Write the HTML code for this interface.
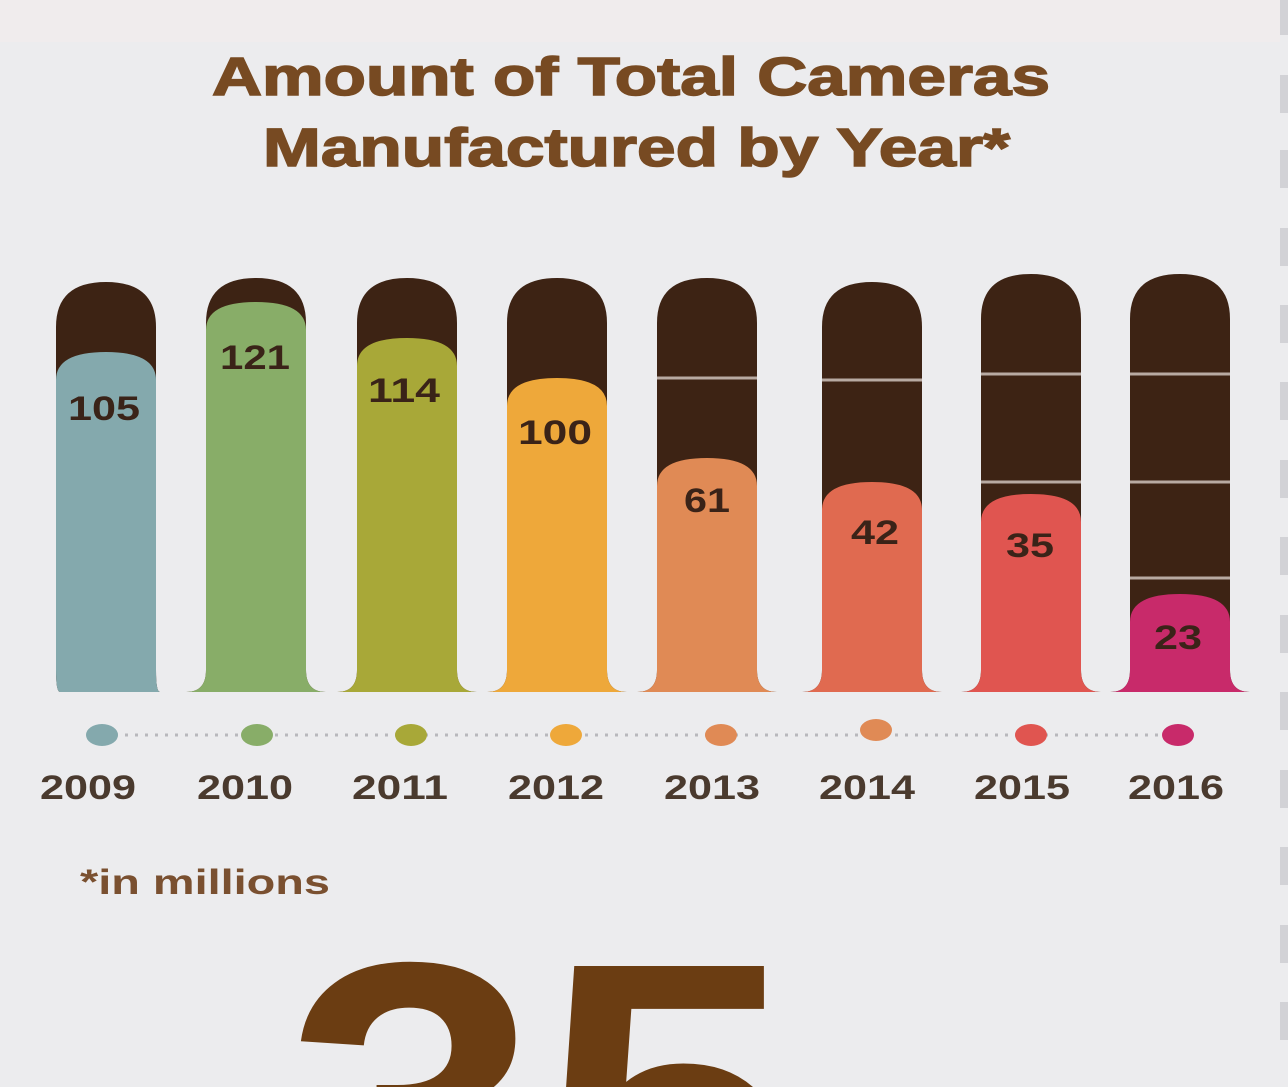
<!DOCTYPE html>
<html><head><meta charset="utf-8"><style>
html,body{margin:0;padding:0;background:#ececee;overflow:hidden;width:1288px;height:1087px}
svg{display:block}
</style></head><body>
<svg id="s" width="1288" height="1087" viewBox="0 0 1288 1087" xmlns="http://www.w3.org/2000/svg">
<rect width="1288" height="1087" fill="#ececee"/>
<rect width="1280" height="42" fill="#f0eced"/>
<g fill="#d2d2d6">
<rect x="1280" y="0" width="8" height="35"/><rect x="1280" y="75" width="8" height="38"/><rect x="1280" y="150" width="8" height="38"/><rect x="1280" y="228" width="8" height="38"/><rect x="1280" y="305" width="8" height="38"/><rect x="1280" y="382" width="8" height="38"/><rect x="1280" y="460" width="8" height="38"/><rect x="1280" y="537" width="8" height="38"/><rect x="1280" y="615" width="8" height="38"/><rect x="1280" y="692" width="8" height="38"/><rect x="1280" y="770" width="8" height="38"/><rect x="1280" y="847" width="8" height="38"/><rect x="1280" y="925" width="8" height="38"/><rect x="1280" y="1002" width="8" height="38"/>
</g>
<g font-family="Liberation Sans, sans-serif" font-weight="bold" fill="#774a22" font-size="54" stroke="#774a22" stroke-width="1.5" lengthAdjust="spacingAndGlyphs">
<text x="212" y="95" textLength="838" lengthAdjust="spacingAndGlyphs">Amount of Total Cameras</text>
<text x="263" y="166" textLength="747" lengthAdjust="spacingAndGlyphs">Manufactured by Year*</text>
</g>
<g id="bars"></g>
<line x1="105" y1="735" x2="1180" y2="735" stroke="#b8b8bc" stroke-width="3" stroke-dasharray="3,7"/>
<g id="dots"></g>
<g font-family="Liberation Sans, sans-serif" font-weight="bold" fill="#3a2318" font-size="34">
<text x="68" y="420" textLength="72" lengthAdjust="spacingAndGlyphs">105</text>
<text x="220" y="369" textLength="70" lengthAdjust="spacingAndGlyphs">121</text>
<text x="368" y="402" textLength="72" lengthAdjust="spacingAndGlyphs">114</text>
<text x="518" y="444" textLength="74" lengthAdjust="spacingAndGlyphs">100</text>
<text x="684" y="512" textLength="46" lengthAdjust="spacingAndGlyphs">61</text>
<text x="851" y="544" textLength="48" lengthAdjust="spacingAndGlyphs">42</text>
<text x="1006" y="557" textLength="48" lengthAdjust="spacingAndGlyphs">35</text>
<text x="1154" y="649" textLength="48" lengthAdjust="spacingAndGlyphs">23</text>
</g>
<g font-family="Liberation Sans, sans-serif" fill="#4a3a2e" font-size="34" font-weight="bold">
<text x="40" y="799" textLength="96" lengthAdjust="spacingAndGlyphs">2009</text>
<text x="197" y="799" textLength="96" lengthAdjust="spacingAndGlyphs">2010</text>
<text x="352" y="799" textLength="96" lengthAdjust="spacingAndGlyphs">2011</text>
<text x="508" y="799" textLength="96" lengthAdjust="spacingAndGlyphs">2012</text>
<text x="664" y="799" textLength="96" lengthAdjust="spacingAndGlyphs">2013</text>
<text x="819" y="799" textLength="96" lengthAdjust="spacingAndGlyphs">2014</text>
<text x="974" y="799" textLength="96" lengthAdjust="spacingAndGlyphs">2015</text>
<text x="1128" y="799" textLength="96" lengthAdjust="spacingAndGlyphs">2016</text>
</g>
<text x="80" y="894" font-family="Liberation Sans, sans-serif" font-weight="bold" font-size="35" fill="#7a5030" textLength="250" lengthAdjust="spacingAndGlyphs">*in millions</text>
<text x="285" y="1255" font-family="Liberation Sans, sans-serif" font-weight="bold" font-size="420" fill="#6b3d12" textLength="510" lengthAdjust="spacingAndGlyphs">35</text>
</svg>
<script>
var ns="http://www.w3.org/2000/svg";
var d=[[106,282,352,"#84a9ad",[]],[256,278,302,"#88ad68",[]],[407,278,338,"#a8a838",[]],[557,278,378,"#eea83a",[378]],[707,278,458,"#e08a55",[378]],[872,282,482,"#e06a50",[380,482]],[1031,274,494,"#e05550",[374,482]],[1180,274,594,"#c82a6a",[374,482,578]]];
var bars=document.getElementById("bars"),dots=document.getElementById("dots");
function p(a,fill){var e=document.createElementNS(ns,"path");e.setAttribute("d",a);e.setAttribute("fill",fill);bars.appendChild(e);}
var bot=692;
d.forEach(function(b,i){var c=b[0],t=b[1],f=b[2];
var fl=i==0?4:20;
var base=" L"+(c+50)+","+(bot-22)+" Q"+(c+50)+","+bot+" "+(c+50+fl)+","+bot+" L"+(c-50-(i==0?-4:fl))+","+bot+" Q"+(c-50)+","+bot+" "+(c-50)+","+(bot-22)+" Z";
p("M"+(c-50)+","+(t+45)+" Q"+(c-50)+","+t+" "+c+","+t+" Q"+(c+50)+","+t+" "+(c+50)+","+(t+45)+base,"#3d2314");
b[4].forEach(function(y){if(y<f){var r=document.createElementNS(ns,"rect");r.setAttribute("x",c-50);r.setAttribute("y",y-1.5);r.setAttribute("width",100);r.setAttribute("height",3);r.setAttribute("fill","#b8aaa2");bars.appendChild(r);}});
p("M"+(c-50)+","+(f+28)+" Q"+(c-50)+","+f+" "+c+","+f+" Q"+(c+50)+","+f+" "+(c+50)+","+(f+28)+base,b[3]);
var e=document.createElementNS(ns,"ellipse");e.setAttribute("cx",[102,257,411,566,721,876,1031,1178][i]);e.setAttribute("cy",i==5?730:735);e.setAttribute("rx",16);e.setAttribute("ry",11);e.setAttribute("fill",i==5?"#e08a55":b[3]);dots.appendChild(e);
});
</script>
</body></html>
